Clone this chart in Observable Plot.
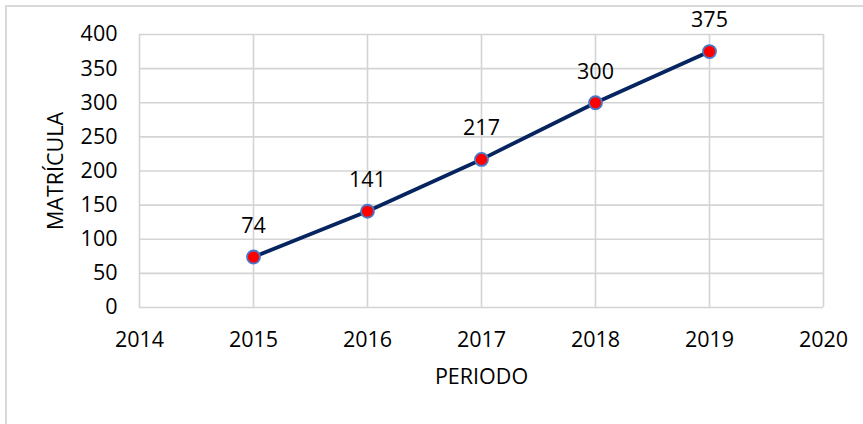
<!DOCTYPE html>
<html>
<head>
<meta charset="utf-8">
<script src="https://cdn.jsdelivr.net/npm/d3@7"></script>
<script src="https://cdn.jsdelivr.net/npm/@observablehq/plot@0.6"></script>
<style>
  html, body { margin: 0; padding: 0; background: #fff; }
  #wrap { position: relative; width: 863px; height: 424px; overflow: hidden; }
  #frame { position: absolute; left: 5px; top: 5px; width: 900px; height: 500px;
           border-top: 2px solid #d9d9d9; border-left: 2px solid #d9d9d9; }
  #chart { position: absolute; left: 0; top: 0; }
</style>
</head>
<body>
<div id="wrap"><div id="frame"></div><div id="chart"></div></div>
<script>
const years = [2015, 2016, 2017, 2018, 2019];
const matricula = [74, 141, 217, 300, 375];
const xTicks = [2014, 2015, 2016, 2017, 2018, 2019, 2020];
const yTicks = [0, 50, 100, 150, 200, 250, 300, 350, 400];

const data = years.map((y, i) => ({year: y, value: matricula[i]}));

const chart = Plot.plot({
  width: 863,
  height: 424,
  marginLeft: 139,
  marginRight: 40,
  marginTop: 34,
  marginBottom: 117,
  style: {fontFamily: "'Open Sans', sans-serif", fontSize: "21.5px", color: "#000", background: "transparent"},
  x: {domain: [2014, 2020]},
  y: {domain: [0, 400]},
  marks: [
    Plot.gridY(yTicks, {stroke: "#d4d4d4", strokeOpacity: 1, strokeWidth: 1.6}),
    Plot.gridX(xTicks, {stroke: "#d4d4d4", strokeOpacity: 1, strokeWidth: 1.6}),
    Plot.axisX({ticks: xTicks, tickFormat: d => String(d), tickSize: 0, tickPadding: 24, fontSize: 21.5,
      label: "PERIODO", labelAnchor: "center", labelArrow: "none", labelOffset: 76}),
    Plot.axisY({ticks: yTicks, tickSize: 0, tickPadding: 22, fontSize: 21.5,
      label: "MATRÍCULA", labelAnchor: "center", labelArrow: "none", labelOffset: 92}),
    Plot.line(data, {x: "year", y: "value", stroke: "#06245f", strokeWidth: 3.8}),
    Plot.dot(data, {x: "year", y: "value", r: 6.5, fill: "#ff0000", stroke: "#4a78c8", strokeWidth: 1.8}),
    Plot.text(data, {x: "year", y: "value", text: d => String(d.value), dy: -31, fill: "#000", fontSize: 21.5})
  ]
});
document.getElementById("chart").appendChild(chart);
</script>
</body>
</html>
